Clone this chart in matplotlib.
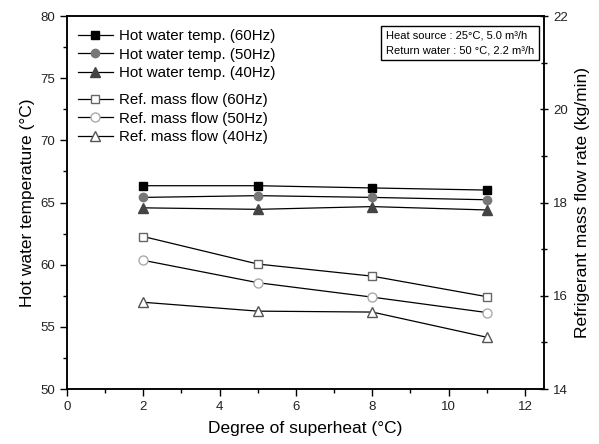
import matplotlib
matplotlib.use("Agg")
import matplotlib.pyplot as plt
from matplotlib.ticker import MultipleLocator

plt.rcParams['font.family'] = ['Liberation Sans', 'DejaVu Sans']

superheat = [2, 5, 8, 11]
hot_60 = [66.35, 66.35, 66.17, 66.0]
hot_50 = [65.41, 65.55, 65.41, 65.22]
hot_40 = [64.57, 64.45, 64.67, 64.40]
ref_60 = [17.27, 16.68, 16.42, 15.98]
ref_50 = [16.76, 16.28, 15.97, 15.64]
ref_40 = [15.86, 15.67, 15.65, 15.11]

hot_labels = ['Hot water temp. (60Hz)', 'Hot water temp. (50Hz)', 'Hot water temp. (40Hz)']
ref_labels = ['Ref. mass flow (60Hz)', 'Ref. mass flow (50Hz)', 'Ref. mass flow (40Hz)']

W, H = 599, 444
fig = plt.figure(figsize=(W / 100, H / 100), dpi=100)
L, R, T, B = 67, 544, 16, 389
ax = fig.add_axes([L / W, 1 - B / H, (R - L) / W, (B - T) / H])
ax2 = ax.twinx()

lw = 0.9
ms = 6
h1, = ax.plot(superheat, hot_60, '-', color='black', lw=lw, marker='s', ms=ms,
              mfc='black', mec='black', label=hot_labels[0])
h2, = ax.plot(superheat, hot_50, '-', color='black', lw=lw, marker='o', ms=ms,
              mfc='#777777', mec='#777777', label=hot_labels[1])
h3, = ax.plot(superheat, hot_40, '-', color='black', lw=lw, marker='^', ms=ms + 1,
              mfc='#444444', mec='#444444', label=hot_labels[2])
r1, = ax2.plot(superheat, ref_60, '-', color='black', lw=lw, marker='s', ms=ms,
               mfc='white', mec='#666666', mew=1.0, label=ref_labels[0])
r2, = ax2.plot(superheat, ref_50, '-', color='black', lw=lw, marker='o', ms=ms + 0.5,
               mfc='white', mec='#aaaaaa', mew=1.0, label=ref_labels[1])
r3, = ax2.plot(superheat, ref_40, '-', color='black', lw=lw, marker='^', ms=ms + 1,
               mfc='white', mec='#555555', mew=1.0, label=ref_labels[2])

ax.set_xlim(0, 12.5)
ax.set_ylim(50, 80)
ax2.set_ylim(14, 22)

ax.xaxis.set_major_locator(MultipleLocator(2))
ax.xaxis.set_minor_locator(MultipleLocator(1))
ax.yaxis.set_major_locator(MultipleLocator(5))
ax.yaxis.set_minor_locator(MultipleLocator(2.5))
ax2.yaxis.set_major_locator(MultipleLocator(2))
ax2.yaxis.set_minor_locator(MultipleLocator(1))

tick_color = '#222222'
ax.tick_params(which='major', direction='out', length=5, width=1, labelsize=9.5,
               pad=3.5, labelcolor=tick_color)
ax.tick_params(which='minor', direction='out', length=3, width=1)
ax2.tick_params(which='major', direction='inout', length=6, width=1, labelsize=9.5,
                pad=3.5, labelcolor=tick_color)
ax2.tick_params(which='minor', direction='inout', length=5, width=1)

for a in (ax, ax2):
    for s in a.spines.values():
        s.set_linewidth(1.1)

ax.set_xlabel('Degree of superheat (°C)', fontsize=12.5, labelpad=6)
ax.set_ylabel('Hot water temperature (°C)', fontsize=12.5, labelpad=4)
ax2.set_ylabel('Refrigerant mass flow rate (kg/min)', fontsize=12.5, labelpad=5)

leg_kw = dict(frameon=False, fontsize=10.9, handlelength=2.3, handletextpad=0.4,
              labelspacing=0.3, borderpad=0, borderaxespad=0, loc='upper left',
              bbox_transform=fig.transFigure)
leg1 = ax2.legend([h1, h2, h3], hot_labels, bbox_to_anchor=(78 / W, 1 - 29 / H), **leg_kw)
ax2.add_artist(leg1)
leg2 = ax2.legend([r1, r2, r3], ref_labels, bbox_to_anchor=(78 / W, 1 - 93 / H), **leg_kw)

fig.text(386 / W, 1 - 43 / H, 'Heat source : 25°C, 5.0 m³/h\nReturn water : 50 °C, 2.2 m³/h',
         fontsize=8.0, va='center', ha='left', linespacing=1.6,
         bbox=dict(boxstyle='square,pad=0.45', fc='white', ec='black', lw=1))

fig.savefig('out.png', dpi=100)
